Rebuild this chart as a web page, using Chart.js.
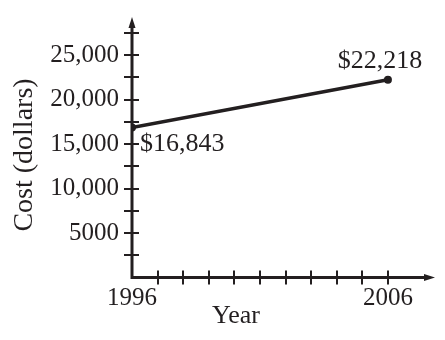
<!DOCTYPE html>
<html>
<head>
<meta charset="utf-8">
<script src="https://cdn.jsdelivr.net/npm/chart.js@4/dist/chart.umd.min.js"></script>
<style>
  html, body { margin: 0; padding: 0; background: #fff; }
  #wrap { width: 445px; height: 340px; }
</style>
</head>
<body>
<div id="wrap"><canvas id="costo-grafica" width="445" height="340"></canvas></div>
<script>
const anios = [1996, 2006];
const costos = [16843, 22218];
const etiquetas = ['$16,843', '$22,218'];
const valoresY = [5000, 10000, 15000, 20000, 25000];
const textosY = ['5000', '10,000', '15,000', '20,000', '25,000'];
const valoresX = [1996, 2006];
const textosX = ['1996', '2006'];

const tinta = '#231f20';
const fuente = "'Liberation Serif', 'Times New Roman', serif";

// ejes con flechas, marcas que cruzan el eje, titulos y etiquetas de los puntos
const ejesPlugin = {
  id: 'ejes',
  afterDraw(chart) {
    const ctx = chart.ctx;
    const x = chart.scales.x, y = chart.scales.y;
    const x0 = x.getPixelForValue(1996), y0 = y.getPixelForValue(0);
    const xEnd = x.right, yTop = y.top;
    ctx.save();
    ctx.strokeStyle = tinta;
    ctx.fillStyle = tinta;
    ctx.lineWidth = 3;
    ctx.beginPath();
    ctx.moveTo(x0, yTop + 6); ctx.lineTo(x0, y0); ctx.lineTo(xEnd - 6, y0);
    ctx.stroke();
    // flechas
    ctx.beginPath();
    ctx.moveTo(x0, yTop); ctx.lineTo(x0 - 3.5, yTop + 11); ctx.lineTo(x0 + 3.5, yTop + 11); ctx.closePath();
    ctx.fill();
    ctx.beginPath();
    ctx.moveTo(xEnd, y0); ctx.lineTo(xEnd - 11, y0 - 3.5); ctx.lineTo(xEnd - 11, y0 + 3.5); ctx.closePath();
    ctx.fill();
    // marcas
    ctx.lineWidth = 2;
    for (let v = 2500; v <= 27500; v += 2500) {
      const py = Math.round(y.getPixelForValue(v));
      ctx.beginPath(); ctx.moveTo(x0 - 8, py); ctx.lineTo(x0 + 7, py); ctx.stroke();
    }
    for (let a = 1997; a <= 2006; a++) {
      const px = Math.round(x.getPixelForValue(a));
      ctx.beginPath(); ctx.moveTo(px, y0 - 7); ctx.lineTo(px, y0 + 7); ctx.stroke();
    }
    // titulos
    ctx.textAlign = 'center';
    ctx.textBaseline = 'middle';
    ctx.font = '26px ' + fuente;
    ctx.fillText('Year', 236, 316);
    ctx.save();
    ctx.font = '28px ' + fuente;
    ctx.translate(25, 155);
    ctx.rotate(-Math.PI / 2);
    ctx.fillText('Cost (dollars)', 0, 0);
    ctx.restore();
    // etiquetas de valores
    ctx.font = '26px ' + fuente;
    const p1x = x.getPixelForValue(anios[0]), p1y = y.getPixelForValue(costos[0]);
    const p2x = x.getPixelForValue(anios[1]), p2y = y.getPixelForValue(costos[1]);
    ctx.textAlign = 'left';
    ctx.fillText(etiquetas[0], p1x + 8, p1y + 17);
    ctx.textAlign = 'center';
    ctx.fillText(etiquetas[1], p2x - 8, p2y - 19);
    ctx.restore();
  }
};

const ctx = document.getElementById('costo-grafica').getContext('2d');
const grafica = new Chart(ctx, {
  type: 'line',
  data: {
    datasets: [{
      data: anios.map((a, i) => ({ x: a, y: costos[i] })),
      borderColor: tinta,
      backgroundColor: tinta,
      borderWidth: 3.5,
      pointRadius: 4,
      pointBackgroundColor: tinta,
      pointBorderWidth: 0
    }]
  },
  options: {
    responsive: false,
    animation: false,
    layout: { autoPadding: false, padding: { top: 17, right: 10, left: 0, bottom: 0 } },
    scales: {
      x: {
        type: 'linear',
        min: 1996,
        max: 2007.84,
        afterFit: s => { s.height = 62.5; s.paddingLeft = 0; s.paddingRight = 0; },
        afterBuildTicks: s => { s.ticks = valoresX.map(v => ({ value: v })); },
        grid: { display: false },
        border: { display: false },
        ticks: {
          autoSkip: false,
          maxRotation: 0,
          padding: 0,
          color: tinta,
          font: { family: fuente, size: 25, lineHeight: 1 },
          callback: (v, i) => textosX[i]
        }
      },
      y: {
        min: 0,
        max: 29270,
        afterFit: s => { s.width = 132; s.paddingTop = 0; s.paddingBottom = 0; },
        afterBuildTicks: s => { s.ticks = valoresY.map(v => ({ value: v })); },
        grid: { display: false },
        border: { display: false },
        ticks: {
          autoSkip: false,
          padding: 5,
          color: tinta,
          font: { family: fuente, size: 25 },
          callback: (v, i) => textosY[i]
        }
      }
    },
    plugins: {
      legend: { display: false },
      tooltip: { enabled: false }
    }
  },
  plugins: [ejesPlugin]
});
</script>
</body>
</html>
